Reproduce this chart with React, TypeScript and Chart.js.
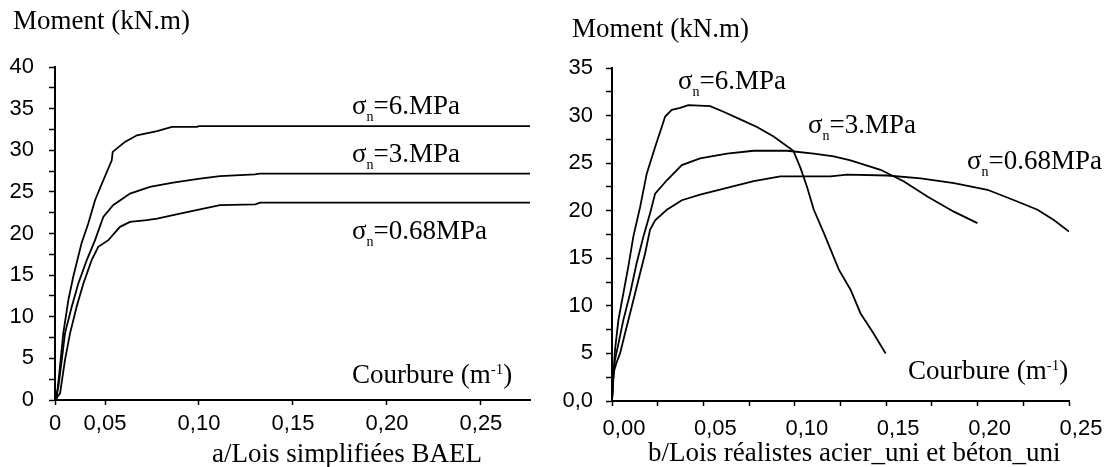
import React, { useEffect, useRef } from "react";
import { Chart, registerables } from "chart.js";

Chart.register(...registerables);

// ---------- data: left chart (a / Lois simplifiées BAEL) ----------
const L_X_MIN = 0.0234;
const L_X_MAX = 0.2761;
const L_X_TICKS = [L_X_MIN, 0.05, 0.1, 0.15, 0.2, 0.25];

const L6x = [0.0234, 0.0243, 0.0264, 0.0278, 0.0305, 0.0331, 0.0376, 0.0411, 0.0447, 0.0491, 0.0536, 0.0541, 0.0606, 0.067, 0.0777, 0.0856, 0.0989, 0.1, 0.2761];
const L6y = [0, 0.2, 4.8, 8, 12, 14.8, 18.9, 21.2, 24, 26.4, 28.8, 29.8, 31, 31.8, 32.3, 32.8, 32.8, 32.9, 32.9];

const L3x = [0.0234, 0.0252, 0.027, 0.0287, 0.0323, 0.0358, 0.0403, 0.0447, 0.0491, 0.0543, 0.0633, 0.0739, 0.0862, 0.1005, 0.1112, 0.1298, 0.1324, 0.2761];
const L3y = [0, 1.6, 4.8, 8, 11.2, 14, 16.8, 19.2, 22, 23.4, 24.8, 25.6, 26.1, 26.6, 26.9, 27.1, 27.2, 27.2];

const L068x = [0.0234, 0.0261, 0.0287, 0.0314, 0.0349, 0.0385, 0.0429, 0.0464, 0.0518, 0.058, 0.0633, 0.0722, 0.0777, 0.0899, 0.1005, 0.1112, 0.13, 0.1324, 0.2761];
const L068y = [0, 0.8, 4.8, 8, 11.2, 14, 16.8, 18.4, 19.2, 20.8, 21.4, 21.6, 21.8, 22.4, 22.9, 23.4, 23.5, 23.7, 23.7];

// ---------- data: right chart (b / Lois réalistes) ----------
const R_X_TICKS = [0, 0.025, 0.05, 0.075, 0.1, 0.125, 0.15, 0.175, 0.2, 0.225, 0.25];

const R6x = [0, 0.0007, 0.0016, 0.0035, 0.0062, 0.0089, 0.0117, 0.0154, 0.019, 0.0236, 0.0291, 0.0327, 0.0373, 0.0418, 0.0537, 0.061, 0.0702, 0.0793, 0.0884, 0.0992, 0.1031, 0.1067, 0.1104, 0.1158, 0.1241, 0.1305, 0.136, 0.1431, 0.1497];
const R6y = [0, 2.5, 5.3, 8.5, 11.3, 14.1, 17.3, 20.4, 23.9, 26.7, 29.9, 30.6, 30.8, 31.1, 31.0, 30.4, 29.6, 28.8, 27.8, 26.3, 24.5, 22.5, 20.1, 17.7, 13.8, 11.7, 9.2, 7.1, 5.0];

const R3x = [0, 0.0007, 0.0016, 0.0035, 0.0062, 0.0099, 0.0135, 0.0172, 0.0208, 0.0236, 0.03, 0.0382, 0.0482, 0.0629, 0.0775, 0.0958, 0.1104, 0.1213, 0.1305, 0.1469, 0.1595, 0.1725, 0.187, 0.1999];
const R3y = [0, 2.2, 4.3, 6.0, 8.5, 11.3, 14.5, 17.3, 19.7, 21.8, 23.2, 24.8, 25.5, 26.0, 26.3, 26.3, 26.0, 25.7, 25.3, 24.3, 23.1, 21.5, 19.9, 18.7];

const R068x = [0, 0.0007, 0.0026, 0.0044, 0.0071, 0.0108, 0.0144, 0.0181, 0.0208, 0.0236, 0.03, 0.0382, 0.0482, 0.0629, 0.0775, 0.0921, 0.1195, 0.1287, 0.1506, 0.1689, 0.1871, 0.2054, 0.22, 0.2328, 0.2419, 0.25];
const R068y = [0, 2.9, 4.1, 5.0, 7.1, 9.9, 12.7, 15.5, 18.0, 19.0, 20.1, 21.1, 21.7, 22.4, 23.1, 23.6, 23.6, 23.8, 23.7, 23.4, 22.9, 22.2, 21.1, 20.1, 19.0, 17.8];

const zip = (xs: number[], ys: number[]) => xs.map((x, i) => ({ x, y: ys[i] }));

const SANS = "'Liberation Sans', Arial, sans-serif";
const SERIF = "'Liberation Serif', 'Times New Roman', serif";

const lineDs = (xs: number[], ys: number[]) => ({
  data: zip(xs, ys),
  borderColor: "#000",
  borderWidth: 1.8,
  pointRadius: 0,
  tension: 0,
  fill: false,
});

function makeConfig(opts: any) {
  const {
    datasets, xMin, xMax, xTicks, xLabel, yMax, yLabel, yWidth, xHeight, padding, xLabelOffset, yPad, xPad,
  } = opts;
  return {
    type: "line",
    data: { datasets },
    options: {
      animation: false,
      responsive: false,
      devicePixelRatio: 1,
      layout: { padding },
      plugins: { legend: { display: false }, tooltip: { enabled: false } },
      scales: {
        x: {
          type: "linear",
          min: xMin,
          max: xMax,
          afterBuildTicks: (s: any) => {
            s.ticks = xTicks.map((v: number) => ({ value: v }));
          },
          afterFit: (s: any) => {
            s.height = xHeight;
          },
          grid: { drawOnChartArea: false, drawTicks: true, tickLength: 5, tickColor: "#000", tickWidth: 1.5 },
          border: { display: true, color: "#000", width: 2 },
          ticks: {
            autoSkip: false,
            maxRotation: 0,
            padding: xPad,
            labelOffset: xLabelOffset,
            color: "#000",
            font: { family: SANS, size: 22 },
            callback: (v: number) => xLabel(v),
          },
        },
        y: {
          type: "linear",
          min: 0,
          max: yMax,
          afterBuildTicks: (s: any) => {
            const t = [];
            for (let i = 0; i <= yMax / 2.5; i++) t.push({ value: i * 2.5 });
            s.ticks = t;
          },
          afterFit: (s: any) => {
            s.width = yWidth;
          },
          grid: { drawOnChartArea: false, drawTicks: true, tickLength: 6, tickColor: "#000", tickWidth: 1.5 },
          border: { display: true, color: "#000", width: 2 },
          ticks: {
            autoSkip: false,
            padding: yPad,
            color: "#000",
            font: { family: SANS, size: 22 },
            callback: (v: number) => yLabel(v),
          },
        },
      },
    },
  };
}

const fmt2 = (v: number) => v.toFixed(2).replace(".", ",");

function ChartCanvas({ config, left, width }: { config: any; left: number; width: number }) {
  const ref = useRef<HTMLCanvasElement | null>(null);
  useEffect(() => {
    if (!ref.current) return;
    const c = new Chart(ref.current, config);
    return () => c.destroy();
  }, []);
  return (
    <canvas
      ref={ref}
      width={width}
      height={467}
      style={{ position: "absolute", left, top: 0, width, height: 467, display: "block" }}
    />
  );
}

const txt = (left: number, top: number): React.CSSProperties => ({
  position: "absolute",
  left,
  top,
  fontFamily: SERIF,
  fontSize: 27,
  lineHeight: "27px",
  whiteSpace: "nowrap",
  color: "#000",
});

function Sigma({ left, top, value }: { left: number; top: number; value: string }) {
  return (
    <div style={txt(left, top)}>
      σ<span style={{ fontSize: 14, position: "relative", top: 7 }}>n</span>={value}
    </div>
  );
}

function Courbure({ left, top }: { left: number; top: number }) {
  return (
    <div style={txt(left, top)}>
      Courbure (m<span style={{ fontSize: 15, position: "relative", top: -9 }}>-1</span>)
    </div>
  );
}

export default function App() {
  const leftConfig = makeConfig({
    datasets: [lineDs(L6x, L6y), lineDs(L3x, L3y), lineDs(L068x, L068y)],
    xMin: L_X_MIN,
    xMax: L_X_MAX,
    xTicks: L_X_TICKS,
    xLabel: (v: number) => (v < 0.03 ? "0" : fmt2(v)),
    yMax: 40,
    yLabel: (v: number) => (Math.abs(v % 5) < 1e-6 ? String(v) : ""),
    yWidth: 55,
    xHeight: 67,
    padding: { left: 0, top: 67, right: 30, bottom: 0 },
    xLabelOffset: 0,
    yPad: 15,
    xPad: 6,
  });
  const rightConfig = makeConfig({
    datasets: [lineDs(R6x, R6y), lineDs(R3x, R3y), lineDs(R068x, R068y)],
    xMin: 0,
    xMax: 0.25,
    xTicks: R_X_TICKS,
    xLabel: (v: number) => (Math.round(v * 1000) % 50 === 0 ? fmt2(v) : ""),
    yMax: 35,
    yLabel: (v: number) => (v === 0 ? "0,0" : Math.abs(v % 5) < 1e-6 ? String(v) : ""),
    yWidth: 52,
    xHeight: 66,
    padding: { left: 0, top: 68, right: 39, bottom: 0 },
    xLabelOffset: 12,
    yPad: 13,
    xPad: 10,
  });

  return (
    <div style={{ position: "absolute", left: 0, top: 0, width: 1108, height: 467, background: "#fff", overflow: "hidden" }}>
      <ChartCanvas config={leftConfig} left={0} width={560} />
      <ChartCanvas config={rightConfig} left={560} width={548} />

      <div style={txt(13, 7)}>Moment (kN.m)</div>
      <div style={txt(572, 15)}>Moment (kN.m)</div>

      <Sigma left={352} top={92} value="6.MPa" />
      <Sigma left={352} top={140} value="3.MPa" />
      <Sigma left={352} top={217} value="0.68MPa" />

      <Sigma left={678} top={67} value="6.MPa" />
      <Sigma left={808} top={111} value="3.MPa" />
      <Sigma left={967} top={147} value="0.68MPa" />

      <Courbure left={352} top={361} />
      <Courbure left={908} top={357} />

      <div style={txt(212, 440)}>a/Lois simplifiées BAEL</div>
      <div style={txt(648, 439)}>b/Lois réalistes acier_uni et béton_uni</div>
    </div>
  );
}
